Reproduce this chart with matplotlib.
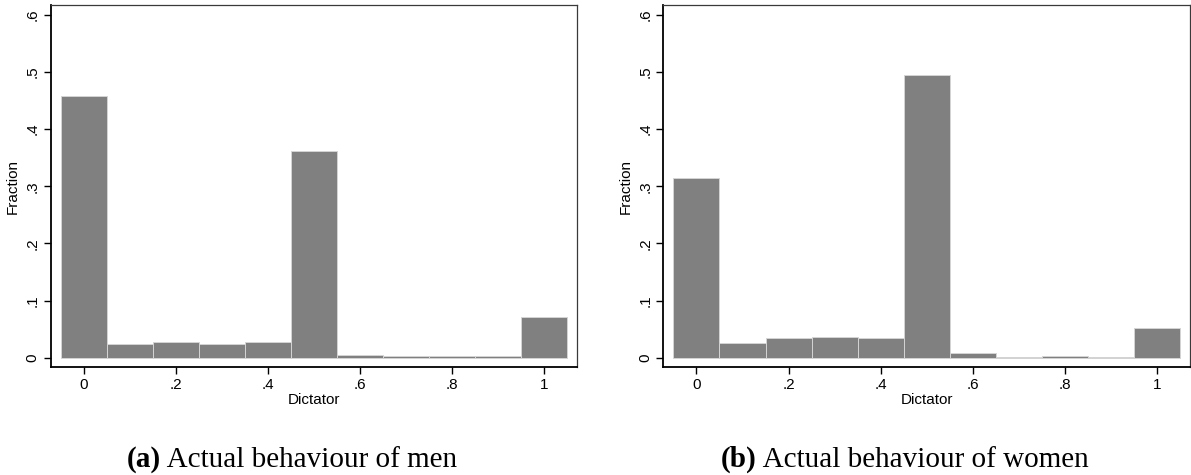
import matplotlib
matplotlib.use('AGG')

import matplotlib.pyplot as plt

# bin centres of the "Dictator" share
bins = [0.0, 0.1, 0.2, 0.3, 0.4, 0.5, 0.6, 0.7, 0.8, 0.9, 1.0]
men = [0.458, 0.025, 0.027, 0.0245, 0.027, 0.362, 0.005, 0.004, 0.0025, 0.0025, 0.072]
women = [0.314, 0.026, 0.034, 0.036, 0.0355, 0.495, 0.009, 0.002, 0.004, 0.002, 0.0525]

xticks = [0, 0.2, 0.4, 0.6, 0.8, 1.0]
xticklabels = ['0', '.2', '.4', '.6', '.8', '1']
yticks = [0, 0.1, 0.2, 0.3, 0.4, 0.5, 0.6]
yticklabels = ['0', '.1', '.2', '.3', '.4', '.5', '.6']

captions = [('(a)', ' Actual behaviour of men'), ('(b)', ' Actual behaviour of women')]

plt.rcParams['font.family'] = ['Liberation Sans', 'DejaVu Sans']


def draw_hist(ax, values):
    ax.bar(bins, values, width=0.1, color='#808080', edgecolor='#d4d4d4', linewidth=0.7)
    ax.set_xlim(-0.072, 1.0715)
    ax.set_ylim(-0.016, 0.617)
    ax.set_xticks(xticks)
    ax.set_xticklabels(xticklabels)
    ax.set_yticks(yticks)
    ax.set_yticklabels(yticklabels, rotation=90, va='center')
    ax.tick_params(axis='both', direction='out', length=5, width=1, labelsize=11, color='black')
    ax.tick_params(axis='x', pad=3)
    ax.tick_params(axis='y', pad=3)
    ax.set_xlabel('Dictator', fontsize=11, labelpad=1)
    ax.set_ylabel('Fraction', fontsize=11, labelpad=4)
    for side in ['left', 'bottom']:
        ax.spines[side].set_linewidth(1.3)
        ax.spines[side].set_color('black')
    for side in ['top', 'right']:
        ax.spines[side].set_linewidth(0.9)
        ax.spines[side].set_color('#3a3a3a')


def main():
    fig = plt.figure(figsize=(11.91, 4.75), dpi=100)
    ax1 = fig.add_axes([0.0426, 0.2274, 0.4416, 0.762])
    ax2 = fig.add_axes([0.5569, 0.2274, 0.4422, 0.762])
    draw_hist(ax1, men)
    draw_hist(ax2, women)

    cap = dict(fontsize=21, family=['Liberation Serif', 'DejaVu Serif'], va='baseline')
    ybase = 1 - 467 / 475
    r = fig.canvas.get_renderer()
    for x0, (tag, rest) in zip([127 / 1191, 721 / 1191], captions):
        t = fig.text(x0, ybase, tag, fontweight='bold', **cap)
        bb = t.get_window_extent(r)
        fig.text(bb.x1 / fig.bbox.width, ybase, rest, **cap)

    fig.savefig('out.png', dpi=100)


if __name__ == "__main__":
    main()
